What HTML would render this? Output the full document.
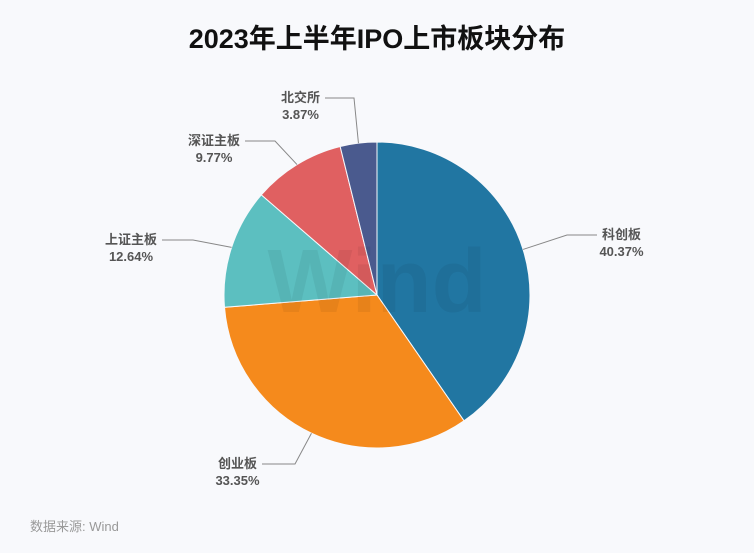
<!DOCTYPE html>
<html><head><meta charset="utf-8">
<style>
html,body{margin:0;padding:0;background:#f8f9fc;}
body{width:754px;height:548px;overflow:hidden;font-family:"Liberation Sans","Noto Sans CJK SC",sans-serif;}
</style></head>
<body>
<svg id="chart" width="754" height="548" xmlns="http://www.w3.org/2000/svg">
<rect width="754" height="548" fill="#f8f9fc"/>
<text x="377" y="48" text-anchor="middle" font-size="27" font-weight="bold" fill="#111" font-family="Liberation Sans,Noto Sans CJK SC,sans-serif">2023年上半年IPO上市板块分布</text>
<text x="30" y="531" font-size="13" fill="#999" font-family="Liberation Sans,Noto Sans CJK SC,sans-serif">数据来源: Wind</text>
<g id="slices"></g>
<text x="377" y="312" text-anchor="middle" font-size="90" font-weight="bold" fill="#000" opacity="0.05">Wind</text>
<g id="labels"></g>
</svg>
<script>
const categories = ["科创板","创业板","上证主板","深证主板","北交所"];
const values = [40.37,33.35,12.64,9.77,3.87];
const colors = ["#2176a2","#f58a1c","#5cbfc0","#e06061","#4a5a8e"];
const cx=377, cy=295, R=153;
const layout = [
 {ex:567,ey:235,hx:597,anchor:"start"},
 {ex:295,ey:464,hx:262,anchor:"end"},
 {ex:193,ey:240,hx:162,anchor:"end"},
 {ex:275,ey:141,hx:245,anchor:"end"},
 {ex:354,ey:98,hx:325,anchor:"end"}
];
const NS="http://www.w3.org/2000/svg";
const total=values.reduce((a,b)=>a+b,0);
const gS=document.getElementById('slices'), gL=document.getElementById('labels');
function pt(a,r){return [cx+r*Math.sin(a), cy-r*Math.cos(a)];}
let a0=0;
values.forEach((v,i)=>{
  const a1=a0+v/total*2*Math.PI;
  const p0=pt(a0,R), p1=pt(a1,R);
  const large=(a1-a0)>Math.PI?1:0;
  const path=document.createElementNS(NS,'path');
  path.setAttribute('d',`M${cx},${cy}L${p0[0]},${p0[1]}A${R},${R} 0 ${large} 1 ${p1[0]},${p1[1]}Z`);
  path.setAttribute('fill',colors[i]);
  path.setAttribute('stroke','#f8f9fc');path.setAttribute('stroke-width','1');
  
  
  gS.appendChild(path);
  const am=(a0+a1)/2, ps=pt(am,R), L=layout[i];
  const line=document.createElementNS(NS,'polyline');
  line.setAttribute('points',`${ps[0]},${ps[1]} ${L.ex},${L.ey} ${L.hx},${L.ey}`);
  line.setAttribute('fill','none');line.setAttribute('stroke','#888');line.setAttribute('stroke-width','1');
  
  
  gL.appendChild(line);
  const w=categories[i].length*13;
  const tx = L.anchor==="start"? L.hx+5+w/2 : L.hx-5-w/2;
  const t=document.createElementNS(NS,'text');
  t.setAttribute('x',tx);t.setAttribute('y',L.ey+4);
  t.setAttribute('text-anchor','middle');
  t.setAttribute('font-size','13');t.setAttribute('font-weight','bold');t.setAttribute('fill','#555');
  
  
  const s1=document.createElementNS(NS,'tspan');s1.setAttribute('x',tx);s1.textContent=categories[i];
  const s2=document.createElementNS(NS,'tspan');s2.setAttribute('x',tx);s2.setAttribute('dy','17');
  s2.textContent=values[i].toFixed(2)+'%';
  t.appendChild(s1);t.appendChild(s2);
  gL.appendChild(t);
  a0=a1;
});
</script>
</body></html>
